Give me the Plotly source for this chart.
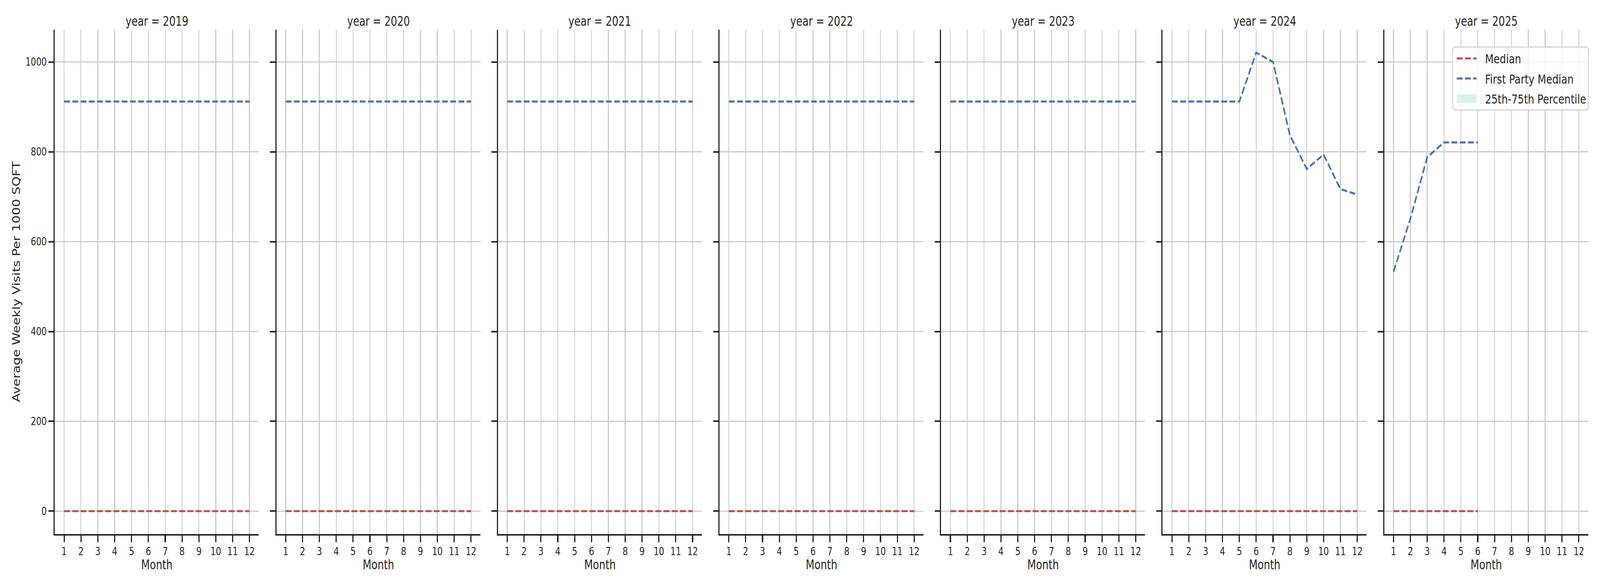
import plotly.graph_objects as go

# ---------------- data ----------------
YEARS = [2019, 2020, 2021, 2022, 2023, 2024, 2025]
MONTHS = [1, 2, 3, 4, 5, 6, 7, 8, 9, 10, 11, 12]
MONTHS_2025 = [1, 2, 3, 4, 5, 6]

FIRST_PARTY_2019 = [912, 912, 912, 912, 912, 912, 912, 912, 912, 912, 912, 912]
FIRST_PARTY_2020 = [912, 912, 912, 912, 912, 912, 912, 912, 912, 912, 912, 912]
FIRST_PARTY_2021 = [912, 912, 912, 912, 912, 912, 912, 912, 912, 912, 912, 912]
FIRST_PARTY_2022 = [912, 912, 912, 912, 912, 912, 912, 912, 912, 912, 912, 912]
FIRST_PARTY_2023 = [912, 912, 912, 912, 912, 912, 912, 912, 912, 912, 912, 912]
FIRST_PARTY_2024 = [912, 912, 912, 912, 912, 1021, 1000, 837, 762, 794, 717, 705]
FIRST_PARTY_2025 = [533, 651, 788, 821, 821, 821]

MEDIAN_2019 = [0, 0, 0, 0, 0, 0, 0, 0, 0, 0, 0, 0]
MEDIAN_2020 = [0, 0, 0, 0, 0, 0, 0, 0, 0, 0, 0, 0]
MEDIAN_2021 = [0, 0, 0, 0, 0, 0, 0, 0, 0, 0, 0, 0]
MEDIAN_2022 = [0, 0, 0, 0, 0, 0, 0, 0, 0, 0, 0, 0]
MEDIAN_2023 = [0, 0, 0, 0, 0, 0, 0, 0, 0, 0, 0, 0]
MEDIAN_2024 = [0, 0, 0, 0, 0, 0, 0, 0, 0, 0, 0, 0]
MEDIAN_2025 = [0, 0, 0, 0, 0, 0]

# 25th / 75th percentile band (collapsed at zero in the source chart)
P25_FULL = [0, 0, 0, 0, 0, 0, 0, 0, 0, 0, 0, 0]
P75_FULL = [0, 0, 0, 0, 0, 0, 0, 0, 0, 0, 0, 0]
P25_2025 = [0, 0, 0, 0, 0, 0]
P75_2025 = [0, 0, 0, 0, 0, 0]

Y_TICKS = [0, 200, 400, 600, 800, 1000]
X_TICK_LABELS = ["1", "2", "3", "4", "5", "6", "7", "8", "9", "10", "11", "12"]

SERIES = [
    (2019, MONTHS, MEDIAN_2019, FIRST_PARTY_2019, P25_FULL, P75_FULL),
    (2020, MONTHS, MEDIAN_2020, FIRST_PARTY_2020, P25_FULL, P75_FULL),
    (2021, MONTHS, MEDIAN_2021, FIRST_PARTY_2021, P25_FULL, P75_FULL),
    (2022, MONTHS, MEDIAN_2022, FIRST_PARTY_2022, P25_FULL, P75_FULL),
    (2023, MONTHS, MEDIAN_2023, FIRST_PARTY_2023, P25_FULL, P75_FULL),
    (2024, MONTHS, MEDIAN_2024, FIRST_PARTY_2024, P25_FULL, P75_FULL),
    (2025, MONTHS_2025, MEDIAN_2025, FIRST_PARTY_2025, P25_2025, P75_2025),
]

# ---------------- style ----------------
W, H = 5250, 1500
FONT = "DejaVu Sans"
TXT = "#262626"
RED = "#c44e52"
BLUE = "#4c72b0"
BAND = "#dcf0ea"
GRID = "#cccccc"
PANEL_LEFT0, PANEL_W, PANEL_PITCH = 180, 669, 727
Y_TOP, Y_BOT = 76, 1367
DASH = "19px,8px"
LW = 5.2

fig = go.Figure()
layout = {}
annotations = []

for i, (year, months, med, fp, p25, p75) in enumerate(SERIES):
    sfx = "" if i == 0 else str(i + 1)
    xa, ya = "x" + sfx, "y" + sfx
    first = i == 0

    fig.add_trace(go.Scatter(x=months, y=p25, xaxis=xa, yaxis=ya, mode="lines",
                             line=dict(width=0, color=BAND), showlegend=False,
                             hoverinfo="skip", legendgroup="band", legendrank=3))
    fig.add_trace(go.Scatter(x=months, y=p75, xaxis=xa, yaxis=ya, mode="lines",
                             fill="tonexty", fillcolor=BAND, line=dict(width=0, color=BAND),
                             name="25th-75th Percentile", legendgroup="band",
                             showlegend=first, legendrank=3))
    fig.add_trace(go.Scatter(x=months, y=med, xaxis=xa, yaxis=ya, mode="lines",
                             line=dict(color=RED, width=LW, dash=DASH),
                             name="Median", legendgroup="median",
                             showlegend=first, legendrank=1))
    fig.add_trace(go.Scatter(x=months, y=fp, xaxis=xa, yaxis=ya, mode="lines",
                             line=dict(color=BLUE, width=LW, dash=DASH),
                             name="First Party Median", legendgroup="fp",
                             showlegend=first, legendrank=2))

    left = PANEL_LEFT0 + i * PANEL_PITCH
    right = left + PANEL_W
    layout["xaxis" + sfx] = dict(
        domain=[left / W, right / W], anchor=ya, range=[0.45, 12.55],
        tickmode="array", tickvals=MONTHS, ticktext=X_TICK_LABELS,
        showgrid=True, gridcolor=GRID, gridwidth=3, zeroline=False,
        showline=True, linecolor=TXT, linewidth=4, mirror=False,
        ticks="outside", ticklen=17, tickwidth=4, tickcolor=TXT,
        tickfont=dict(family=FONT, size=27.5, color=TXT),
    )
    yax = dict(
        domain=[(H - Y_BOT) / H, (H - Y_TOP) / H], anchor=xa, range=[-51, 1072],
        tickmode="array", tickvals=Y_TICKS,
        showgrid=True, gridcolor=GRID, gridwidth=3, zeroline=False,
        showline=True, linecolor=TXT, linewidth=4, mirror=False,
        ticks="outside", ticklen=17, tickwidth=4, tickcolor=TXT,
        tickfont=dict(family=FONT, size=27.5, color=TXT),
        showticklabels=first,
    )
    if not first:
        yax["matches"] = "y"
    layout["yaxis" + sfx] = yax

    cx = (left + right) / 2 / W
    annotations.append(dict(text=f"year = {year}", x=cx, y=1 - 55 / H, xref="paper", yref="paper",
                            xanchor="center", yanchor="middle", showarrow=False,
                            font=dict(family=FONT, size=33, color=TXT)))
    annotations.append(dict(text="Month", x=cx, y=1 - 1445 / H, xref="paper", yref="paper",
                            xanchor="center", yanchor="middle", showarrow=False,
                            font=dict(family=FONT, size=33, color=TXT)))

annotations.append(dict(text="Average Weekly Visits Per 1000 SQFT", x=54 / W,
                        y=1 - (Y_TOP + Y_BOT) / 2 / H, xref="paper", yref="paper",
                        xanchor="center", yanchor="middle", textangle=-90, showarrow=False,
                        font=dict(family=FONT, size=33, color=TXT)))

fig.update_layout(
    width=W, height=H,
    margin=dict(l=0, r=0, t=0, b=0),
    paper_bgcolor="white", plot_bgcolor="white",
    font=dict(family=FONT, size=33, color=TXT),
    annotations=annotations,
    legend=dict(x=5213 / W, y=1 - 119 / H, xanchor="right", yanchor="top",
                bgcolor="rgba(255,255,255,0.8)", bordercolor="#d4d4d4", borderwidth=3,
                font=dict(family=FONT, size=32.5, color=TXT), tracegroupgap=6,
                itemwidth=95, traceorder="grouped"),
    showlegend=True,
    **layout,
)

# The browser viewport can be narrower than the requested 5250 px; fit the
# fixed-size figure into whatever viewport is available, and give the legend
# the longer symbols / rounded frame of the original.
FIT_JS = """
(function(){
  var gd = document.getElementById('{plot_id}');
  document.documentElement.style.margin = '0';
  document.body.style.margin = '0';
  document.body.style.overflow = 'hidden';
  var kx = Math.min(1, window.innerWidth / %d);
  var ky = Math.min(1, window.innerHeight / %d);
  var wrap = gd.parentElement;
  wrap.style.width = (%d * kx) + 'px';
  wrap.style.height = (%d * ky) + 'px';
  wrap.style.overflow = 'hidden';
  gd.style.transformOrigin = '0 0';
  gd.style.transform = 'scale(' + kx + ',' + ky + ')';
  function fixLegend(){
    gd.querySelectorAll('.legend .legendlines path').forEach(function(p){
      p.setAttribute('d', 'M12,0h65');
    });
    gd.querySelectorAll('.legend .legendfill path').forEach(function(p){
      p.setAttribute('d', 'M12,-11h65v22h-65z');
    });
    gd.querySelectorAll('.legend rect.bg').forEach(function(r){
      r.setAttribute('rx', 8); r.setAttribute('ry', 8);
    });
  }
  fixLegend();
  if (gd.on) gd.on('plotly_afterplot', fixLegend);
})();
""" % (W, H, W, H)

fig.write_html("out.html", post_script=FIT_JS, config={"displayModeBar": False})
